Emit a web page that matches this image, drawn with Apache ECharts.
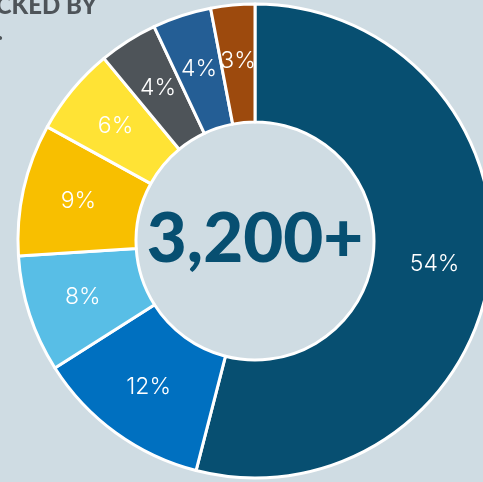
<!DOCTYPE html>
<html><head><meta charset="utf-8">
<style>html,body{margin:0;padding:0;background:#cfdce3;}#c{width:483px;height:482px;}</style>
<script src="https://cdn.jsdelivr.net/npm/echarts@6/dist/echarts.min.js"></script>
</head><body><div id="c"></div>
<script>
const categories = ['A','B','C','D','E','F','G','H'];
const values = [54, 12, 8, 9, 6, 4, 4, 3];
const colors = ['#074f71','#0070c0','#58bee6','#f8bf00','#ffe335','#4e5459','#245e95','#9d4a0d'];
const centerLabel = '3,200+';
const titleLines = ['TRACKED BY', 'STATE.'];

const chart = echarts.init(document.getElementById('c'));
chart.setOption({
  backgroundColor: '#cfdce3',
  animation: false,
  graphic: [
    {type:'text', right: 386, top: -6, style:{text:titleLines[0], font:'900 24px Lato', fill:'#4e5459', textAlign:'right'}},
    {type:'text', right: 480, top: 20, style:{text:titleLines[1], font:'900 24px Lato', fill:'#4e5459', textAlign:'right'}}
  ],
  series: [{
    type: 'pie',
    center: [255, 241],
    radius: [119, 237],
    startAngle: 90,
    clockwise: true,
    silent: true,
    itemStyle: {borderColor:'#ffffff', borderWidth:3},
    label: {show:true, position:'inside', color:'#ffffff', fontFamily:'Inter', fontWeight:300, fontSize:23, formatter: p => p.value + '%'},
    labelLine: {show:false},
    data: categories.map((c,i)=>({name:c, value:values[i], itemStyle:{color:colors[i]}}))
  }, {
    type: 'pie',
    center: [255, 240],
    radius: [0, 0],
    silent: true,
    label: {show:true, position:'center', formatter: centerLabel, color:'#074f71', fontFamily:'Lato', fontWeight:900, fontSize:69},
    data: [{value:1, name:'c'}]
  }]
});
</script></body></html>
